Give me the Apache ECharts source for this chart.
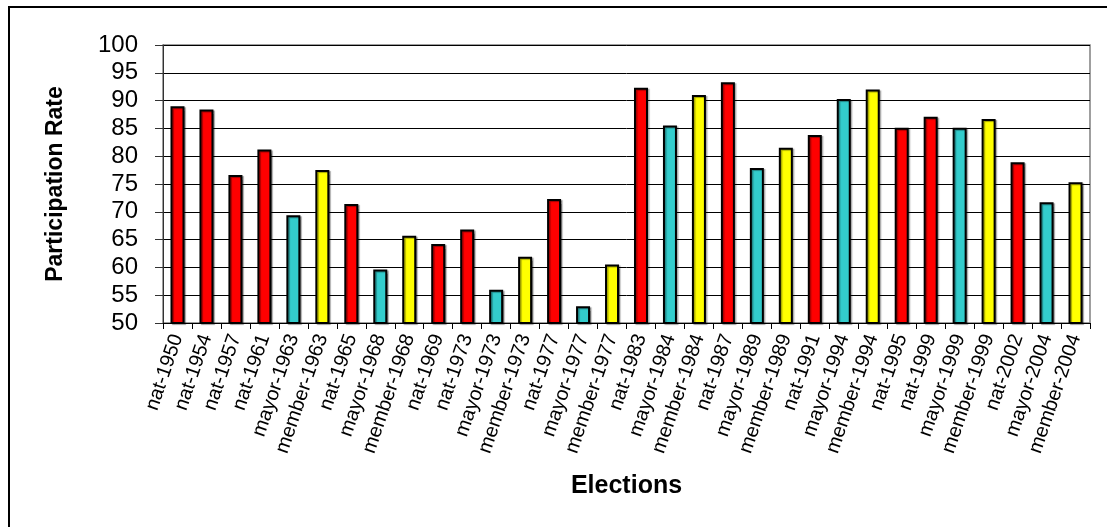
<!DOCTYPE html>
<html>
<head>
<meta charset="utf-8">
<script src="https://cdn.jsdelivr.net/npm/echarts@6/dist/echarts.min.js"></script>
<style>
html,body{margin:0;padding:0;background:#fff;}
#chart{width:1107px;height:527px;}
</style>
</head>
<body>
<div id="chart"></div>
<script>
const categories = ["nat-1950","nat-1954","nat-1957","nat-1961","mayor-1963","member-1963","nat-1965","mayor-1968","member-1968","nat-1969","nat-1973","mayor-1973","member-1973","nat-1977","mayor-1977","member-1977","nat-1983","mayor-1984","member-1984","nat-1987","mayor-1989","member-1989","nat-1991","mayor-1994","member-1994","nat-1995","nat-1999","mayor-1999","member-1999","nat-2002","mayor-2004","member-2004"];
const participation = [89.0,88.4,76.6,81.2,69.4,77.5,71.4,59.6,65.7,64.2,66.8,56.0,61.9,72.3,53.0,60.5,92.3,85.5,91.0,93.3,77.9,81.5,83.8,90.3,92.0,85.1,87.1,85.1,86.7,78.9,71.7,75.3];
const yTicks = {min: 50, max: 100, interval: 5};
const typeColors = {nat: "#FF0000", mayor: "#33CCCC", member: "#FFFF00"};

const chart = echarts.init(document.getElementById('chart'));
const font = "'Liberation Sans', Arial, sans-serif";
chart.setOption({
  animation: false,
  backgroundColor: '#fff',
  graphic: [{
    type: 'rect', silent: true, z: 100,
    shape: {x: 9, y: 7, width: 1120, height: 540},
    style: {fill: 'none', stroke: '#000', lineWidth: 2}
  }],
  grid: {left: 163, right: 17, top: 45, bottom: 204, show: true, borderColor: '#808080', borderWidth: 1.5, backgroundColor: 'transparent'},
  xAxis: {
    type: 'category',
    data: categories,
    boundaryGap: true,
    name: 'Elections',
    nameLocation: 'middle',
    nameGap: 151,
    nameTextStyle: {fontFamily: font, fontWeight: 'bold', fontSize: 25, color: '#000'},
    axisLine: {lineStyle: {color: '#000', width: 1}},
    axisTick: {show: true, length: 6, alignWithLabel: false, interval: 0, lineStyle: {color: '#000'}},
    axisLabel: {interval: 0, rotate: 71, margin: 12, fontFamily: font, fontSize: 20, color: '#000'}
  },
  yAxis: {
    type: 'value',
    min: yTicks.min, max: yTicks.max, interval: yTicks.interval,
    name: 'Participation Rate',
    nameLocation: 'middle',
    nameGap: 96,
    nameRotate: 90,
    nameTextStyle: {fontFamily: font, fontWeight: 'bold', fontSize: 23, color: '#000'},
    axisLine: {show: true, lineStyle: {color: '#333', width: 1}},
    axisTick: {show: true, length: 8, lineStyle: {color: '#333'}},
    axisLabel: {margin: 25, fontFamily: font, fontSize: 24, color: '#000'},
    splitLine: {show: true, lineStyle: {color: '#000', width: 1}}
  },
  series: [{
    type: 'bar',
    barWidth: 14,
    data: participation.map((v, i) => ({
      value: v,
      itemStyle: {color: typeColors[categories[i].split('-')[0]]}
    })),
    itemStyle: {borderColor: '#000', borderWidth: 2, shadowColor: 'rgba(0,0,0,0.35)', shadowOffsetX: 1.5, shadowOffsetY: 1, shadowBlur: 1}
  }]
});
</script>
</body>
</html>
